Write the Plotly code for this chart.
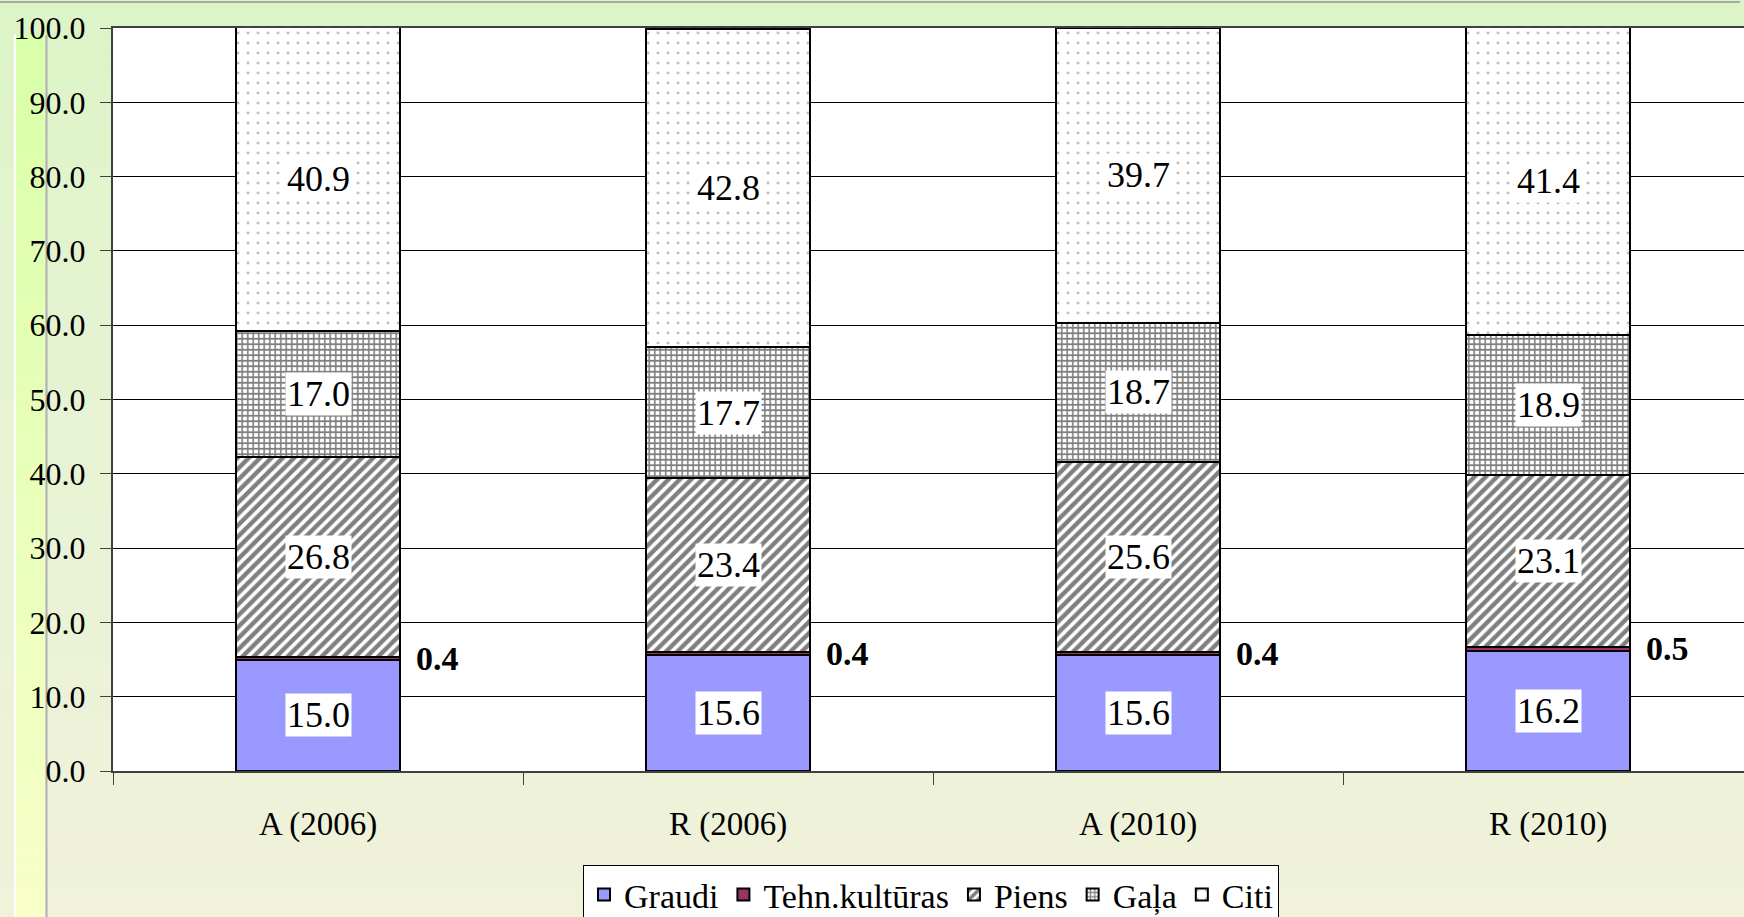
import plotly.graph_objects as go

categories = ["A (2006)", "R (2006)", "A (2010)", "R (2010)"]
graudi = [15.0, 15.6, 15.6, 16.2]
tehn = [0.4, 0.4, 0.4, 0.5]
piens = [26.8, 23.4, 25.6, 23.1]
gala = [17.0, 17.7, 18.7, 18.9]
citi = [40.9, 42.8, 39.7, 41.4]
series_names = ["Graudi", "Tehn.kultūras", "Piens", "Gaļa", "Citi"]
y_ticks = [0, 10, 20, 30, 40, 50, 60, 70, 80, 90, 100]

W, H = 1744, 917
L, T, B, R = 113, 28, 146, 0
PW, PH = W - L - R, H - T - B
FONT = "Liberation Serif"


def px2x(p):
    return (p - L) / PW


def py2y(p):
    return (H - B - p) / PH


def lerp(c1, c2, t):
    return "rgb(%d,%d,%d)" % tuple(round(a + (b - a) * t) for a, b in zip(c1, c2))


fig = go.Figure()

styles = [
    dict(color="#9999ff"),
    dict(color="#993366"),
    dict(color="white", pattern=dict(shape="/", fgcolor="black", bgcolor="white", size=8, solidity=0.55)),
    dict(color="white", pattern=dict(shape="+", fgcolor="black", bgcolor="white", size=5.5, solidity=0.5)),
    dict(color="white", pattern=dict(shape=".", fgcolor="#808080", bgcolor="white", size=10, solidity=0.07)),
]
all_series = [graudi, tehn, piens, gala, citi]
for name, vals, st in zip(series_names, all_series, styles):
    fig.add_trace(go.Bar(
        name=name, x=categories, y=vals, width=0.4,
        marker=dict(line=dict(color="black", width=2), **st),
        hoverinfo="x+y+name",
    ))

# data labels
annotations = []
for i, cat in enumerate(categories):
    base = 0.0
    for k, vals in enumerate(all_series):
        v = vals[i]
        center = base + v / 2
        if k == 1:
            annotations.append(dict(
                x=cat, y=center, xref="x", yref="y", text="<b>%.1f</b>" % v,
                showarrow=False, xanchor="left", xshift=96,
                font=dict(family=FONT, size=34, color="black")))
        else:
            annotations.append(dict(
                x=cat, y=center, xref="x", yref="y", text="%.1f" % v,
                showarrow=False, bgcolor="white", borderpad=1,
                font=dict(family=FONT, size=36, color="black")))
        base += v

# background gradient shapes
shapes = []
top_c, mid_c, bot_c = (220, 244, 198), (232, 243, 212), (240, 242, 218)
n = 60
for j in range(n):
    y0p = H * j / n
    y1p = H * (j + 1) / n
    t = (j + 0.5) / n
    c = lerp(top_c, mid_c, t * 2) if t < 0.5 else lerp(mid_c, bot_c, (t - 0.5) * 2)
    shapes.append(dict(type="rect", xref="paper", yref="paper",
                       x0=px2x(0), x1=px2x(W), y0=py2y(y1p), y1=py2y(y0p),
                       fillcolor=c, line=dict(width=0), layer="below"))
# left bright strip
strip_top, strip_bot = (216, 255, 170), (248, 255, 200)
for j in range(n):
    y0p = 35 + (H - 35) * j / n
    y1p = 35 + (H - 35) * (j + 1) / n
    c = lerp(strip_top, strip_bot, (j + 0.5) / n)
    shapes.append(dict(type="rect", xref="paper", yref="paper",
                       x0=px2x(16), x1=px2x(45), y0=py2y(y1p), y1=py2y(y0p),
                       fillcolor=c, line=dict(width=0), layer="below"))
shapes.append(dict(type="line", xref="paper", yref="paper", x0=px2x(15), x1=px2x(15),
                   y0=py2y(H), y1=py2y(35), line=dict(color="white", width=2), layer="below"))
shapes.append(dict(type="line", xref="paper", yref="paper", x0=px2x(46.5), x1=px2x(46.5),
                   y0=py2y(H), y1=py2y(35), line=dict(color="#b0b0b0", width=2), layer="below"))
shapes.append(dict(type="line", xref="paper", yref="paper", x0=px2x(0), x1=px2x(W - 4),
                   y0=py2y(2), y1=py2y(2), line=dict(color="#a8a8a8", width=2), layer="below"))
# white plot area
shapes.append(dict(type="rect", xref="paper", yref="paper", x0=0, x1=1, y0=0, y1=1,
                   fillcolor="white", line=dict(width=0), layer="below"))

fig.update_layout(
    width=W, height=H,
    margin=dict(l=L, r=R, t=T, b=B, pad=0, autoexpand=False),
    barmode="stack",
    paper_bgcolor="#eef2da",
    plot_bgcolor="white",
    font=dict(family=FONT, size=32, color="black"),
    shapes=shapes,
    annotations=annotations,
    showlegend=True,
    legend=dict(orientation="h", x=px2x(931), xanchor="center", y=py2y(865), yanchor="top",
                bgcolor="white", bordercolor="black", borderwidth=1,
                font=dict(family=FONT, size=34), traceorder="normal",
                itemwidth=30, tracegroupgap=0),
    xaxis=dict(type="category", range=[-0.5, 3.478], tickson="boundaries",
               ticks="outside", ticklen=12, tickcolor="#404040", tickwidth=1,
               showline=True, linecolor="#404040", linewidth=2, mirror=True,
               showgrid=False, tickfont=dict(family=FONT, size=33),
               ticklabelstandoff=22, automargin=False),
    yaxis=dict(range=[0, 100], tickvals=y_ticks, tickformat=".1f",
               ticks="outside", ticklen=11, tickcolor="#404040",
               showline=True, linecolor="#404040", linewidth=2,
               showgrid=True, gridcolor="black", gridwidth=1, zeroline=False,
               tickfont=dict(family=FONT, size=32), ticklabelstandoff=8,
               automargin=False),
)

fig.write_html(
    "out.html",
    config={"displayModeBar": False},
    post_script="document.body.style.margin='0';document.body.style.overflow='hidden';",
)
